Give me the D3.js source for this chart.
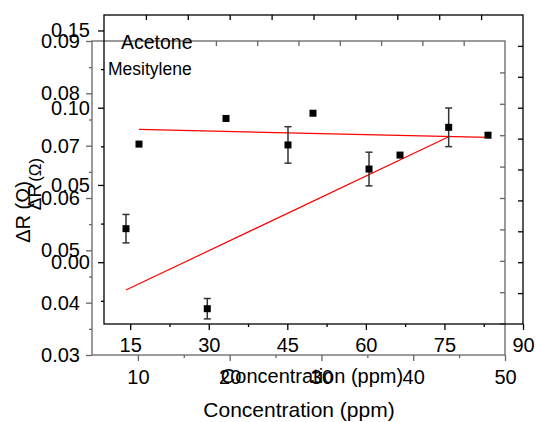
<!DOCTYPE html>
<html>
<head>
<meta charset="utf-8">
<script src="https://cdn.jsdelivr.net/npm/d3@7"></script>
<style>
  body { margin: 0; background: #fff; }
  text { font-family: "Liberation Sans", Arial, sans-serif; }
</style>
</head>
<body>
<div id="chart"></div>
<script>
// back frame (grey): points without error bars
var concA = [10.12, 19.6, 29.08, 38.56, 48.15];
var respA = [0.0703, 0.0752, 0.0762, 0.0682, 0.0720];
var fitA = [[10.12, 0.0731], [48.15, 0.0716]];

// front frame (black): points with error bars
var concB = [14.2, 29.72, 45.13, 60.6, 75.81];
var respB = [0.0217, -0.0301, 0.0759, 0.0603, 0.0873];
var errB = [0.0092, 0.0066, 0.0118, 0.0109, 0.0125];
var fitB = [[14.2, -0.018], [75.81, 0.0812]];

// tick values
var xTicksA = [10, 20, 30, 40, 50];
var xMinorA = [15, 25, 35, 45];
var yTicksA = [0.03, 0.04, 0.05, 0.06, 0.07, 0.08, 0.09];
var yMinorA = [0.035, 0.045, 0.055, 0.065, 0.075, 0.085];
var topTicksA = [18.5, 23, 27.5, 32, 36.5, 41, 45.5];
var rightTicksA = [0.036, 0.042, 0.048, 0.054, 0.060, 0.066, 0.072, 0.078, 0.084];

var xTicksB = [15, 30, 45, 60, 75, 90];
var xMinorB = [22.5, 37.5, 52.5, 67.5, 82.5];
var yTicksB = [0, 0.05, 0.10, 0.15];
var yMinorB = [-0.025, 0.025, 0.075, 0.125];
var topTicksB = [18, 26, 34, 42, 50, 58, 66, 74, 82];
var rightTicksB = [-0.02, 0, 0.02, 0.04, 0.06, 0.08, 0.10, 0.12, 0.14];

var legendNames = ["Acetone", "Mesitylene"];
var xTitle = "Concentration (ppm)";

var W = 537, H = 422;

var svg = d3.select("#chart").append("svg")
  .attr("width", W).attr("height", H);

// scales
var xA = d3.scaleLinear().domain([5, 50]).range([92, 505]);
var yA = d3.scaleLinear().domain([0.03, 0.09]).range([355, 41]);
var xB = d3.scaleLinear().domain([10, 90]).range([104, 523]);
var yB = d3.scaleLinear().domain([-0.04, 0.16]).range([324, 15]);

function axis(g, fn, vals, size, pad, fmt, labels, color) {
  var a = fn.tickValues(vals).tickSize(size).tickPadding(pad);
  a.tickFormat(labels ? d3.format(fmt) : "");
  g.call(a);
  g.select(".domain").remove();
  g.selectAll("line").attr("stroke", color).attr("stroke-width", 1.3);
  g.selectAll("text").attr("fill", "#000").style("font-size", "20px")
    .style("font-family", "'Liberation Sans', Arial, sans-serif");
}

function frame(x, y, color, o) {
  var g = svg.append("g");
  var x0 = x.range()[0], x1 = x.range()[1], y0 = y.range()[0], y1 = y.range()[1];
  g.append("rect")
    .attr("x", x0).attr("y", y1).attr("width", x1 - x0).attr("height", y0 - y1)
    .attr("fill", "none").attr("stroke", color).attr("stroke-width", 1.3);

  axis(g.append("g").attr("transform", "translate(0," + y0 + ")"),
    d3.axisBottom(x), o.xt, 6, o.xpad, "d", true, color);
  axis(g.append("g").attr("transform", "translate(0," + y0 + ")"),
    d3.axisBottom(x), o.xm, 3, 0, "d", false, color);
  axis(g.append("g").attr("transform", "translate(" + x0 + ",0)"),
    d3.axisLeft(y), o.yt, 6, o.ypad, ".2f", true, color);
  axis(g.append("g").attr("transform", "translate(" + x0 + ",0)"),
    d3.axisLeft(y), o.ym, 3, 0, ".2f", false, color);
  axis(g.append("g").attr("transform", "translate(0," + y1 + ")"),
    d3.axisBottom(x), o.top, 5, 0, "d", false, color);
  axis(g.append("g").attr("transform", "translate(" + x1 + ",0)"),
    d3.axisLeft(y), o.right, 5, 0, "d", false, color);
  return g;
}

frame(xA, yA, "#666", {xt: xTicksA, xm: xMinorA, xpad: 9, yt: yTicksA, ym: yMinorA, ypad: 6,
  top: topTicksA, right: rightTicksA});
frame(xB, yB, "#000", {xt: xTicksB, xm: xMinorB, xpad: 8, yt: yTicksB, ym: yMinorB, ypad: 8,
  top: topTicksB, right: rightTicksB});

// legend text
svg.append("text").attr("x", 121).attr("y", 49).style("font-size", "19.5px").text(legendNames[0]);
svg.append("text").attr("x", 108).attr("y", 75).style("font-size", "17.5px").text(legendNames[1]);

// axis titles
svg.append("text").attr("x", 312).attr("y", 383).attr("text-anchor", "middle")
  .style("font-size", "20px").text(xTitle);
svg.append("text").attr("x", 299).attr("y", 417).attr("text-anchor", "middle")
  .style("font-size", "21px").text(xTitle);

svg.append("text").attr("transform", "translate(30,212) rotate(-90)")
  .attr("text-anchor", "middle").style("font-size", "20px").text("ΔR (Ω)");
var t2 = svg.append("text").attr("transform", "translate(41,184) rotate(-90)")
  .attr("text-anchor", "middle").style("font-size", "19px");
t2.append("tspan").text("ΔR");
t2.append("tspan").attr("dx", 2).style("font-size", "17px").text("(Ω)");

// fit lines
var lineA = d3.line().x(d => xA(d[0])).y(d => yA(d[1]));
var lineB = d3.line().x(d => xB(d[0])).y(d => yB(d[1]));
svg.append("path").attr("d", lineA(fitA)).attr("fill", "none")
  .attr("stroke", "#ff0000").attr("stroke-width", 1.2);
svg.append("path").attr("d", lineB(fitB)).attr("fill", "none")
  .attr("stroke", "#ff0000").attr("stroke-width", 1.2);

// error bars
var eb = svg.append("g").attr("stroke", "#333").attr("stroke-width", 1.5);
concB.forEach(function(c, i) {
  var cx = xB(c), lo = yB(respB[i] - errB[i]), hi = yB(respB[i] + errB[i]);
  eb.append("line").attr("x1", cx).attr("x2", cx).attr("y1", lo).attr("y2", hi);
  eb.append("line").attr("x1", cx - 3.5).attr("x2", cx + 3.5).attr("y1", lo).attr("y2", lo);
  eb.append("line").attr("x1", cx - 3.5).attr("x2", cx + 3.5).attr("y1", hi).attr("y2", hi);
});

// markers
var s = 7;
svg.append("g").selectAll("rect")
  .data(concA.map((c, i) => [c, respA[i]]))
  .join("rect")
    .attr("x", d => xA(d[0]) - s / 2).attr("y", d => yA(d[1]) - s / 2)
    .attr("width", s).attr("height", s).attr("fill", "#000");
svg.append("g").selectAll("rect")
  .data(concB.map((c, i) => [c, respB[i]]))
  .join("rect")
    .attr("x", d => xB(d[0]) - s / 2).attr("y", d => yB(d[1]) - s / 2)
    .attr("width", s).attr("height", s).attr("fill", "#000");
</script>
</body>
</html>
